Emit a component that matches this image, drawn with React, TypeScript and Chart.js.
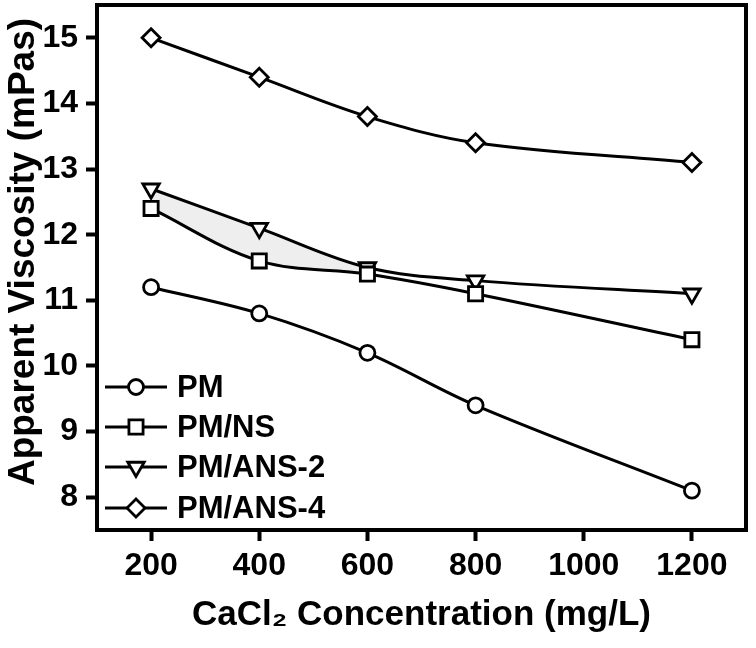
import React, { useEffect, useRef } from 'react';
import { Chart, registerables } from 'chart.js';

Chart.register(...registerables);

// ---- data ----
const CONCENTRATIONS = [200, 400, 600, 800, 1200];
const PM = [11.2, 10.8, 10.2, 9.4, 8.1];
const PM_NS = [12.4, 11.6, 11.4, 11.1, 10.4];
const PM_ANS2 = [12.7, 12.1, 11.5, 11.3, 11.1];
const PM_ANS4 = [15.0, 14.4, 13.8, 13.4, 13.1];
const SERIES_LABELS = ['PM', 'PM/NS', 'PM/ANS-2', 'PM/ANS-4'];
const X_TICKS = [200, 400, 600, 800, 1000, 1200];
const Y_TICKS = [8, 9, 10, 11, 12, 13, 14, 15];
const X_TITLE = 'CaCl₂ Concentration (mg/L)';
const Y_TITLE = 'Apparent Viscosity (mPas)';

const FONT = '"Liberation Sans", Arial, Helvetica, sans-serif';

const MARKERS = [
  { pointStyle: 'circle', radius: 7.5, rotation: 0 },
  { pointStyle: 'rect', radius: 10, rotation: 0 },
  { pointStyle: 'triangle', radius: 9.5, rotation: 180 },
  { pointStyle: 'rectRot', radius: 9, rotation: 0 },
];

function drawMarker(ctx: CanvasRenderingContext2D, style: string, r: number, rotDeg: number, x: number, y: number) {
  ctx.beginPath();
  if (style === 'circle') {
    ctx.arc(x, y, r, 0, Math.PI * 2);
  } else if (style === 'rect') {
    const s = r * Math.SQRT1_2;
    ctx.rect(x - s, y - s, 2 * s, 2 * s);
  } else if (style === 'rectRot') {
    ctx.moveTo(x, y - r);
    ctx.lineTo(x + r, y);
    ctx.lineTo(x, y + r);
    ctx.lineTo(x - r, y);
    ctx.closePath();
  } else if (style === 'triangle') {
    let rad = (rotDeg * Math.PI) / 180;
    ctx.moveTo(x + Math.sin(rad) * r, y - Math.cos(rad) * r);
    rad += (2 * Math.PI) / 3;
    ctx.lineTo(x + Math.sin(rad) * r, y - Math.cos(rad) * r);
    rad += (2 * Math.PI) / 3;
    ctx.lineTo(x + Math.sin(rad) * r, y - Math.cos(rad) * r);
    ctx.closePath();
  }
  ctx.fill();
  ctx.stroke();
}

const framePlugin = {
  id: 'frameAndText',
  afterDraw(chart: any) {
    const { ctx, chartArea } = chart;
    const { left, top, right, bottom } = chartArea;
    ctx.save();
    // frame
    ctx.strokeStyle = '#000';
    ctx.lineWidth = 4;
    ctx.strokeRect(left, top, right - left, bottom - top);

    // legend inside plot
    const rowsY = [387, 427, 467, 508];
    ctx.lineWidth = 2.8;
    ctx.font = `bold 31px ${FONT}`;
    ctx.textBaseline = 'middle';
    ctx.textAlign = 'left';
    SERIES_LABELS.forEach((label, i) => {
      const y = rowsY[i];
      ctx.strokeStyle = '#000';
      ctx.beginPath();
      ctx.moveTo(105, y);
      ctx.lineTo(167, y);
      ctx.stroke();
      ctx.fillStyle = '#fff';
      const m = MARKERS[i];
      drawMarker(ctx, m.pointStyle, m.radius, m.rotation, 136, y);
      ctx.fillStyle = '#000';
      ctx.fillText(label, 177, y + 1);
    });

    // axis titles
    ctx.fillStyle = '#000';
    ctx.font = `bold 35px ${FONT}`;
    ctx.textAlign = 'center';
    ctx.textBaseline = 'alphabetic';
    ctx.fillText(X_TITLE, (left + right) / 2, 625);
    ctx.save();
    ctx.translate(34, 252);
    ctx.rotate(-Math.PI / 2);
    ctx.font = `bold 37px ${FONT}`;
    ctx.fillText(Y_TITLE, 0, 0);
    ctx.restore();
    ctx.restore();
  },
};

export default function App() {
  const ref = useRef<HTMLCanvasElement>(null);

  useEffect(() => {
    const canvas = ref.current;
    if (!canvas) return;
    const series = [PM, PM_NS, PM_ANS2, PM_ANS4];
    const datasets: any[] = series.map((vals, i) => ({
      label: SERIES_LABELS[i],
      data: CONCENTRATIONS.map((x, j) => ({ x, y: vals[j] })),
      borderColor: '#000',
      borderWidth: 3,
      tension: 0.35,
      backgroundColor: 'rgba(0,0,0,0)',
      fill: false,
      pointStyle: MARKERS[i].pointStyle,
      pointRadius: MARKERS[i].radius,
      pointRotation: MARKERS[i].rotation,
      pointBackgroundColor: '#fff',
      pointBorderColor: '#000',
      pointBorderWidth: 2.8,
    }));
    datasets[2].fill = { target: 1 };
    datasets[2].segment = {
      backgroundColor: (c: any) => (c.p0DataIndex < 2 ? '#eeeeee' : 'rgba(0,0,0,0)'),
    };

    const tickFont = { family: FONT, size: 32, weight: 'bold' as const };

    const chart = new Chart(canvas, {
      type: 'line',
      data: { datasets },
      options: {
        responsive: false,
        animation: false,
        layout: { autoPadding: false, padding: { left: 0, top: 5, right: 10, bottom: 0 } },
        plugins: { legend: { display: false }, tooltip: { enabled: false } },
        scales: {
          x: {
            type: 'linear',
            min: 100,
            max: 1300,
            afterBuildTicks: (s: any) => {
              s.ticks = X_TICKS.map((v) => ({ value: v }));
            },
            afterFit: (s: any) => {
              s.height = 118;
              s.paddingLeft = 0;
              s.paddingRight = 0;
            },
            border: { display: false },
            grid: {
              drawOnChartArea: false,
              drawTicks: true,
              tickLength: 11,
              tickWidth: 4,
              tickColor: '#000',
              color: '#000',
            },
            ticks: {
              color: '#000',
              font: tickFont,
              padding: 6,
              maxRotation: 0,
              autoSkip: false,
              callback: (v: any) => String(v),
            },
          },
          y: {
            type: 'linear',
            min: 7.5,
            max: 15.5,
            afterBuildTicks: (s: any) => {
              s.ticks = Y_TICKS.map((v) => ({ value: v }));
            },
            afterFit: (s: any) => {
              s.width = 97;
              s.paddingTop = 0;
              s.paddingBottom = 0;
            },
            border: { display: false },
            grid: {
              drawOnChartArea: false,
              drawTicks: true,
              tickLength: 11,
              tickWidth: 4,
              tickColor: '#000',
              color: '#000',
            },
            ticks: {
              color: '#000',
              font: tickFont,
              padding: 8,
              autoSkip: false,
              callback: (v: any) => String(v),
            },
          },
        },
      },
      plugins: [framePlugin],
    });
    return () => chart.destroy();
  }, []);

  return (
    <div style={{ position: 'absolute', left: 0, top: 0, width: 756, height: 648, background: '#fff' }}>
      <canvas ref={ref} width={756} height={648} />
    </div>
  );
}
